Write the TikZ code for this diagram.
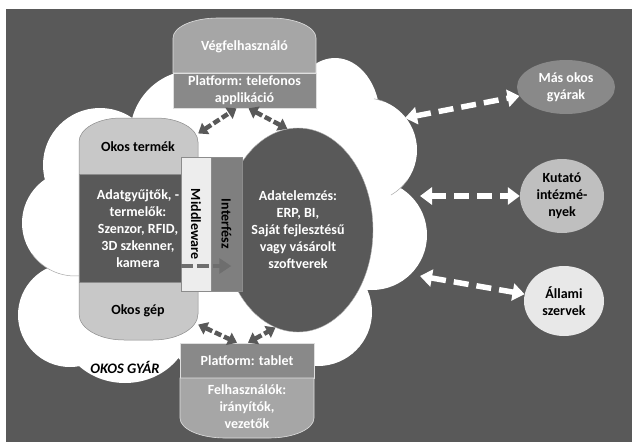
\documentclass[tikz,border=0pt]{standalone}
\usepackage{fontspec}
\setmainfont{Carlito}
\usetikzlibrary{arrows.meta,positioning,calc,shapes.geometric}

\definecolor{bgdark}{HTML}{595959}
\definecolor{lightpart}{HTML}{C8C8C8}
\definecolor{midpart}{HTML}{A6A6A6}
\definecolor{darkpart}{HTML}{898989}
\definecolor{stripgray}{HTML}{7F7F7F}
\definecolor{striplight}{HTML}{EDEDED}
\definecolor{edgegray}{HTML}{8C8C8C}
\definecolor{palegray}{HTML}{E8E8E8}
\definecolor{softgray}{HTML}{BFBFBF}
\definecolor{linkgray}{HTML}{6E6E6E}

\begin{document}
\begin{tikzpicture}[
  x=1pt, y=-1pt,
  font=\fontsize{14}{17}\selectfont\bfseries,
  label/.style={align=center, inner sep=0pt},
  whitetext/.style={label, text=white},
  section/.style={draw=white!75!gray, line width=0.6pt, inner sep=0pt},
  strip/.style={
    draw=edgegray,
    line width=0.5pt,
    rotate=-90,
    minimum width=134pt,
    inner sep=0pt
  },
  partner/.style={ellipse, inner sep=0pt, align=center},
  grayarrow/.style={
    {Triangle[length=9pt,width=13pt]}-{Triangle[length=9pt,width=13pt]},
    draw=bgdark,
    line width=4.5pt,
    dash pattern=on 7pt off 3pt
  },
  whitearrow/.style={
    {Triangle[length=12pt,width=17pt]}-{Triangle[length=12pt,width=17pt]},
    draw=white,
    line width=5.5pt,
    dash pattern=on 15pt off 8pt
  },
  linkarrow/.style={
    -{Triangle[length=12pt,width=15pt]},
    draw=linkgray,
    line width=3.5pt,
    dash pattern=on 12pt off 4pt,
    shorten >=11pt
  },
  cloudline/.style={draw=gray!70, line width=0.5pt}
]

\useasboundingbox (0,0) rectangle (632,442);
\fill[white] (0,0) rectangle (632,442);
\fill[bgdark] (6,9) rectangle (632,442);

% cloud of the factory
\fill[white]
  (225,225) ellipse[x radius=150, y radius=115]
  (195,135) circle[radius=65]
  (280,140) circle[radius=50]
  (100,165) circle[radius=57]
  (75,223) circle[radius=53]
  (70,315) circle[radius=52]
  (125,325) ellipse[x radius=65, y radius=58]
  (220,330) circle[radius=50]
  (335,118) ellipse[x radius=45, y radius=60]
  (365,150) circle[radius=52]
  (372,235) circle[radius=55]
  (318,312) circle[radius=54]
  (265,335) circle[radius=40];
\draw[cloudline] (75,223) ++(75:53) arc[start angle=75, end angle=145, radius=53];
\draw[cloudline] (365,150) ++(35:52) arc[start angle=35, end angle=60, radius=52];
\draw[cloudline] (365,150) ++(-80:52) arc[start angle=-80, end angle=-70, radius=52];

% data analysis
\node[ellipse, fill=bgdark, draw=gray!60, line width=0.4pt,
      minimum width=150pt, minimum height=204pt, inner sep=0pt,
      text=white, align=center] (analysis) at (298,230)
  {Adatelemzés:\\ERP, BI,\\Saját fejlesztésű\\vagy vásárolt\\szoftverek};

% smart product / machine
\node[minimum width=119pt, minimum height=222pt, inner sep=0pt] (capsule) at (138.5,229) {};
\filldraw[fill=lightpart, draw=edgegray, line width=0.5pt]
  (79,142) arc[start angle=180, end angle=270, x radius=42, y radius=24]
  -- (156,118) arc[start angle=270, end angle=360, x radius=42, y radius=24]
  -- (198,314) arc[start angle=0, end angle=90, x radius=45, y radius=26]
  -- (124,340) arc[start angle=90, end angle=180, x radius=45, y radius=26]
  -- cycle;
\filldraw[fill=bgdark, draw=edgegray, line width=0.5pt] (79,174) rectangle (198,282);
\node[label] (product) at (138,147) {Okos termék};
\node[whitetext] (collectors) at (138,229)
  {Adatgyűjtők, -\\termelők:\\Szenzor, RFID,\\3D szkenner,\\kamera};
\node[label] (machine) at (138,311) {Okos gép};

\node[strip, fill=striplight, minimum height=30pt] (middleware) at (196,224) {Middleware};
\node[strip, fill=stripgray, minimum height=31pt] (interface) at (226.5,224) {Interfész};
\draw[linkarrow] ($(middleware.south)+(0,42)$) -- ($(interface.north)+(0,42)$);

% end user on top
\filldraw[fill=midpart, draw=white!75!gray, line width=0.6pt]
  (173,73) -- (173,38) arc[start angle=180, end angle=270, x radius=45, y radius=20]
  -- (271,18) arc[start angle=270, end angle=360, x radius=45, y radius=20]
  -- (316,73) -- cycle;
\node[whitetext] (enduser) at (244.5,47) {Végfelhasználó};
\node[section, whitetext, fill=darkpart, minimum width=143pt, minimum height=35pt]
  (phoneplatform) at (244.5,90.5) {Platform: telefonos\\applikáció};

% users at the bottom
\node[section, whitetext, fill=darkpart, minimum width=134pt, minimum height=35pt]
  (tabletplatform) at (247,360.5) {Platform: tablet};
\filldraw[fill=midpart, draw=white!75!gray, line width=0.6pt]
  (180,378) -- (180,418) arc[start angle=180, end angle=90, x radius=45, y radius=20]
  -- (269,438) arc[start angle=90, end angle=0, x radius=45, y radius=20]
  -- (314,378) -- cycle;
\node[whitetext] (users) at (247,407) {Felhasználók:\\irányítók,\\vezetők};

\node[label, font=\fontsize{14.5}{16}\selectfont\bfseries\itshape] (factory) at (125,367) {OKOS GYÁR};

% partners outside
\node[partner, fill=darkpart, text=white, minimum width=98pt, minimum height=54pt]
  (otherfactories) at (566,87) {Más okos\\gyárak};
\node[partner, fill=softgray, minimum width=84pt, minimum height=74pt]
  (research) at (562,196) {Kutató\\intézmé-\\nyek};
\node[partner, fill=palegray, minimum width=80pt, minimum height=70pt]
  (authorities) at (564,301) {Állami\\szervek};

\coordinate (cloudne) at (405,118);
\coordinate (cloudeast) at (420,196);
\coordinate (cloudse) at (420,276);
\draw[whitearrow] (cloudne) -- (otherfactories);
\draw[whitearrow] (cloudeast) -- (research);
\draw[whitearrow] (cloudse) -- (authorities);

\draw[grayarrow] (capsule.58) -- ($(phoneplatform.south)+(-8,0)$);
\draw[grayarrow] ($(phoneplatform.south)+(4,0)$) -- (analysis.96);
\draw[grayarrow] (capsule.-58) -- ($(tabletplatform.north)+(-10,0)$);
\draw[grayarrow] ($(tabletplatform.north)+(1,0)$) -- (analysis.-103);

\end{tikzpicture}
\end{document}
